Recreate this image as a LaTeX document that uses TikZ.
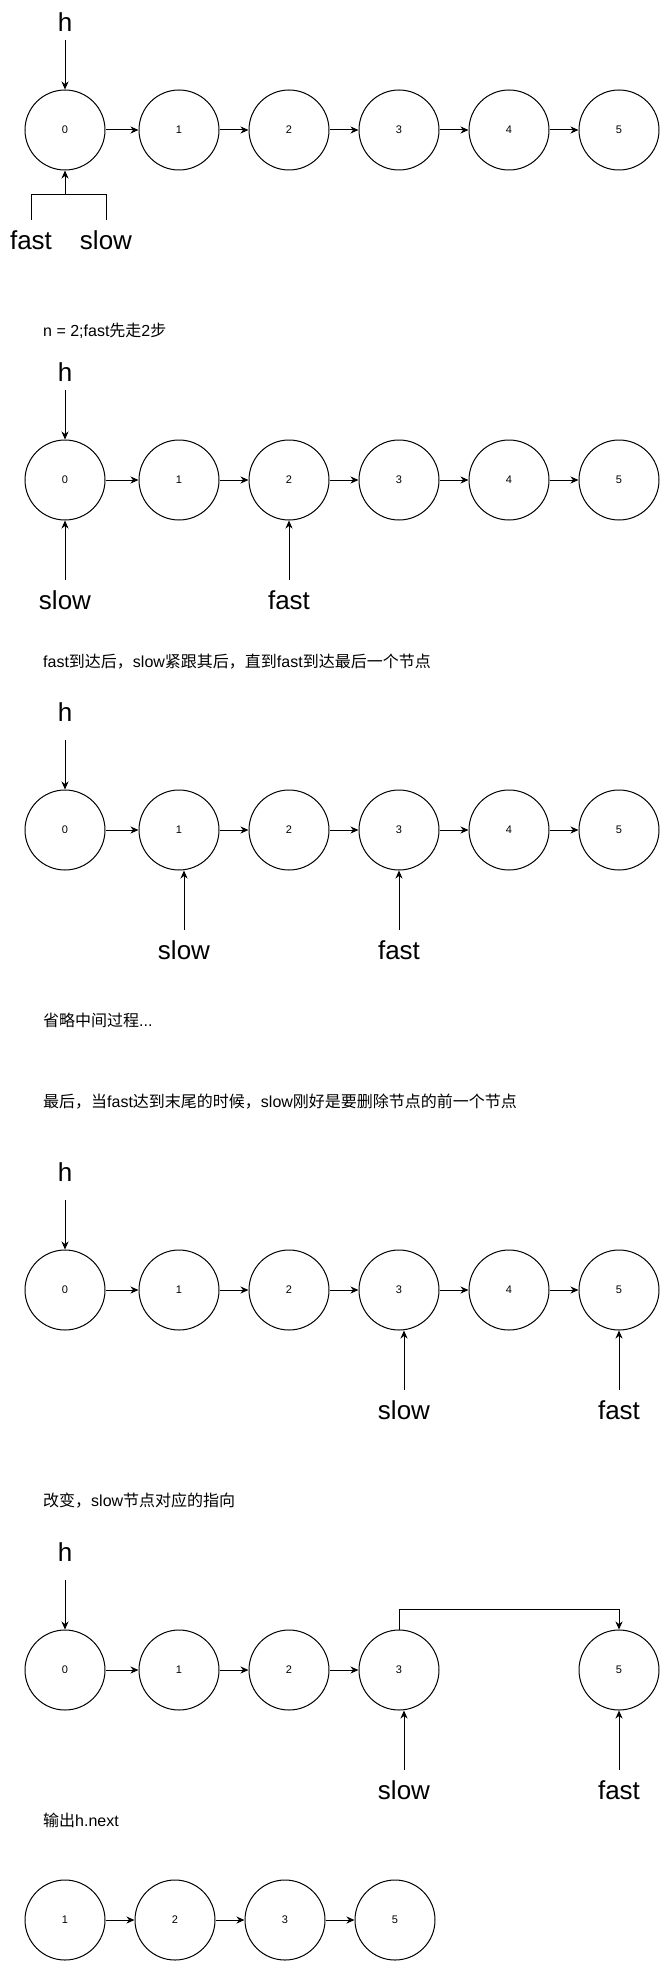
\documentclass[tikz,border=0pt]{standalone}
\usepackage{fontspec}
\setmainfont{Liberation Sans}
\newfontfamily\cjk{Noto Sans CJK SC}
\usetikzlibrary{arrows.meta}
\begin{document}
\begin{tikzpicture}[x=1pt,y=-1pt,
  ll/.style={circle,draw,line width=1pt,minimum size=80pt,inner sep=0pt,font=\fontsize{11}{13}\selectfont},
  big/.style={font=\fontsize{26}{30}\selectfont,inner sep=0pt},
  captxt/.style={anchor=west,font=\fontsize{16}{19}\selectfont,inner sep=0pt},
  arr/.style={-{Stealth[length=8pt,width=7pt,inset=2.5pt]},line width=1pt},
  ln/.style={line width=1pt}]
\useasboundingbox (0,0) rectangle (660,1961);

% ---------- Row A ----------
\foreach \i/\x in {0/65,1/179,2/289,3/399,4/509,5/619}
  \node[ll] (A\i) at (\x,130) {\i};
\foreach \i/\j in {0/1,1/2,2/3,3/4,4/5}
  \draw[arr] (A\i) -- (A\j);
\node[big] (hA) at (65,22) {h};
\coordinate (hAs) at (65,40);
\draw[arr] (hAs) -- (A0);
\node[big] (fastA) at (31,240) {fast};
\node[big] (slowA) at (106,240) {slow};
\coordinate (fAe) at (31,220);
\coordinate (sAe) at (106,220);
\coordinate (jA) at (65,195);
\draw[ln] (fAe) -- (fAe |- jA) -- (sAe |- jA) -- (sAe);
\draw[arr] (jA) -- (A0);

% ---------- Row B ----------
\node[captxt] (capB) at (43,331) {n = 2;fast{\cjk 先走}2{\cjk 步}};
\foreach \i/\x in {0/65,1/179,2/289,3/399,4/509,5/619}
  \node[ll] (B\i) at (\x,480) {\i};
\foreach \i/\j in {0/1,1/2,2/3,3/4,4/5}
  \draw[arr] (B\i) -- (B\j);
\node[big] (hB) at (65,372) {h};
\coordinate (hBs) at (65,390);
\draw[arr] (hBs) -- (B0);
\node[big] (slowB) at (65,600) {slow};
\node[big] (fastB) at (289,600) {fast};
\coordinate (sBe) at (65,580);
\coordinate (fBe) at (289,580);
\draw[arr] (sBe) -- (B0);
\draw[arr] (fBe) -- (B2);

% ---------- Row C ----------
\node[captxt] (capC) at (43,662) {fast{\cjk 到达后，}slow{\cjk 紧跟其后，直到}fast{\cjk 到达最后一个节点}};
\foreach \i/\x in {0/65,1/179,2/289,3/399,4/509,5/619}
  \node[ll] (C\i) at (\x,830) {\i};
\foreach \i/\j in {0/1,1/2,2/3,3/4,4/5}
  \draw[arr] (C\i) -- (C\j);
\node[big] (hC) at (65,712) {h};
\coordinate (hCs) at (65,740);
\draw[arr] (hCs) -- (C0);
\node[big] (slowC) at (184,950) {slow};
\node[big] (fastC) at (399,950) {fast};
\coordinate (sCe) at (184,930);
\coordinate (fCe) at (399,930);
\draw[arr] (sCe) -- (sCe |- C1.south);
\draw[arr] (fCe) -- (C3);

\node[captxt] (capOm) at (43,1020) {{\cjk 省略中间过程}...};

% ---------- Row D ----------
\node[captxt] (capD) at (43,1102) {{\cjk 最后，当}fast{\cjk 达到末尾的时候，}slow{\cjk 刚好是要删除节点的前一个节点}};
\foreach \i/\x in {0/65,1/179,2/289,3/399,4/509,5/619}
  \node[ll] (D\i) at (\x,1290) {\i};
\foreach \i/\j in {0/1,1/2,2/3,3/4,4/5}
  \draw[arr] (D\i) -- (D\j);
\node[big] (hD) at (65,1172) {h};
\coordinate (hDs) at (65,1200);
\draw[arr] (hDs) -- (D0);
\node[big] (slowD) at (404,1410) {slow};
\node[big] (fastD) at (619,1410) {fast};
\coordinate (sDe) at (404,1390);
\coordinate (fDe) at (619,1390);
\draw[arr] (sDe) -- (sDe |- D3.south);
\draw[arr] (fDe) -- (D5);

% ---------- Row E ----------
\node[captxt] (capE) at (43,1501) {{\cjk 改变，}slow{\cjk 节点对应的指向}};
\foreach \i/\x in {0/65,1/179,2/289,3/399,5/619}
  \node[ll] (E\i) at (\x,1670) {\i};
\foreach \i/\j in {0/1,1/2,2/3}
  \draw[arr] (E\i) -- (E\j);
\node[big] (hE) at (65,1552) {h};
\coordinate (hEs) at (65,1580);
\draw[arr] (hEs) -- (E0);
\draw[arr] (E3.north) -- ++(0,-20) -| (E5.north);
\node[big] (slowE) at (404,1790) {slow};
\node[big] (fastE) at (619,1790) {fast};
\coordinate (sEe) at (404,1770);
\coordinate (fEe) at (619,1770);
\draw[arr] (sEe) -- (sEe |- E3.south);
\draw[arr] (fEe) -- (E5);

% ---------- Row F ----------
\node[captxt] (capF) at (43,1820) {{\cjk 输出}h.next};
\foreach \i/\x in {1/65,2/175,3/285,5/395}
  \node[ll] (F\i) at (\x,1920) {\i};
\foreach \i/\j in {1/2,2/3,3/5}
  \draw[arr] (F\i) -- (F\j);
\end{tikzpicture}
\end{document}
